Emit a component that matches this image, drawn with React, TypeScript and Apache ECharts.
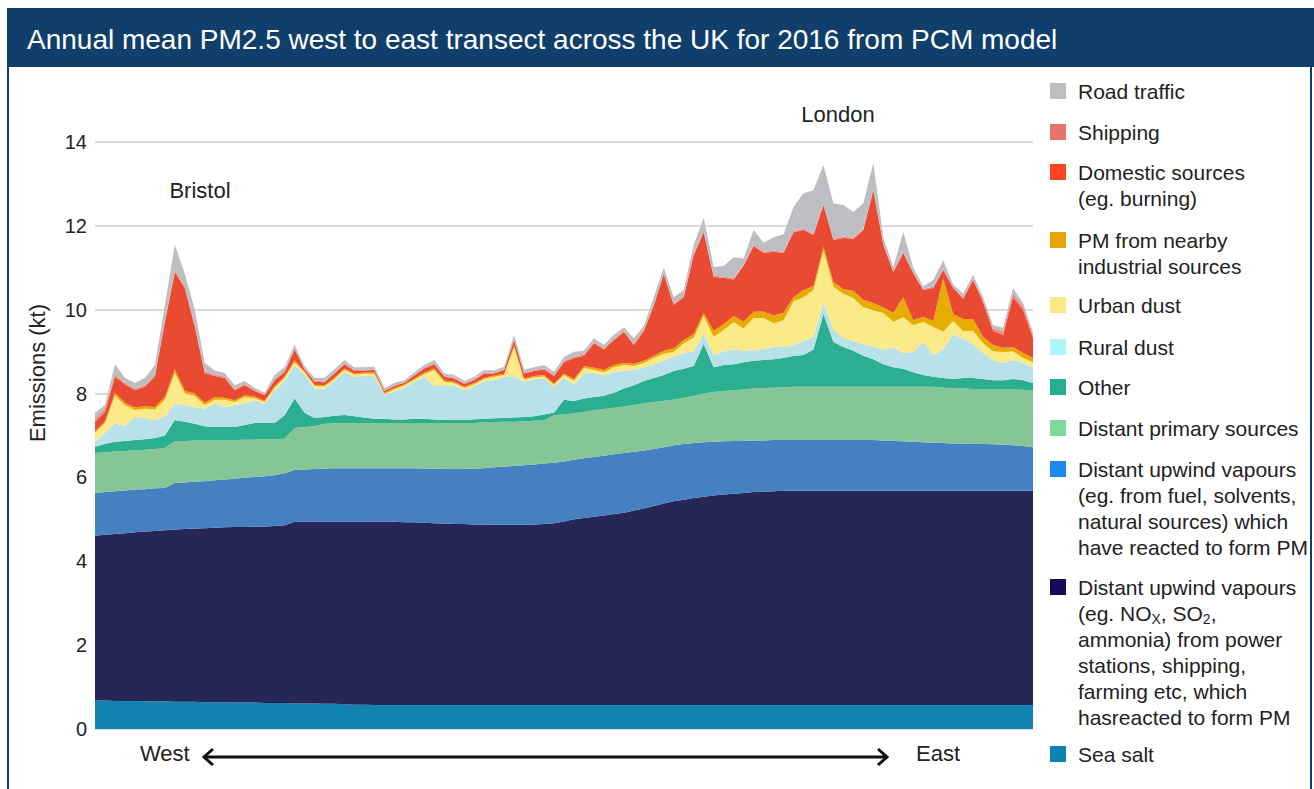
import React, { useEffect, useRef } from "react";
import * as echarts from "echarts";

// Cumulative tops (kt) of each stacked layer, read west→east at ~10px steps
const seaSaltTop = [0.68,0.68,0.67,0.67,0.67,0.66,0.66,0.66,0.65,0.65,0.65,0.64,0.64,0.64,0.63,0.63,0.63,0.62,0.62,0.62,0.61,0.61,0.61,0.60,0.60,0.59,0.58,0.58,0.57,0.57,0.57,0.57,0.57,0.57,0.57,0.57,0.57,0.57,0.57,0.57,0.57,0.57,0.57,0.57,0.57,0.57,0.57,0.57,0.57,0.57,0.57,0.57,0.57,0.57,0.57,0.57,0.57,0.57,0.57,0.57,0.57,0.57,0.57,0.57,0.57,0.57,0.57,0.57,0.57,0.57,0.57,0.57,0.57,0.57,0.57,0.57,0.57,0.57,0.57,0.57,0.57,0.57,0.57,0.57,0.57,0.57,0.57,0.57,0.57,0.57,0.57,0.57,0.57,0.57,0.57];
const noxTop = [4.61,4.63,4.65,4.67,4.69,4.71,4.72,4.74,4.76,4.77,4.78,4.79,4.80,4.81,4.82,4.82,4.83,4.83,4.84,4.86,4.94,4.94,4.94,4.94,4.94,4.94,4.94,4.94,4.94,4.94,4.94,4.93,4.93,4.92,4.91,4.90,4.89,4.89,4.88,4.88,4.87,4.87,4.87,4.87,4.88,4.89,4.91,4.95,5.00,5.03,5.06,5.09,5.13,5.16,5.21,5.26,5.32,5.38,5.43,5.47,5.51,5.54,5.57,5.59,5.61,5.63,5.65,5.66,5.67,5.68,5.68,5.68,5.68,5.68,5.68,5.68,5.68,5.68,5.68,5.68,5.68,5.68,5.68,5.68,5.68,5.68,5.68,5.68,5.68,5.68,5.68,5.68,5.68,5.68,5.68];
const vocTop = [5.63,5.65,5.67,5.69,5.71,5.72,5.74,5.75,5.87,5.88,5.90,5.91,5.93,5.95,5.97,5.99,6.01,6.03,6.05,6.10,6.18,6.19,6.20,6.21,6.22,6.22,6.22,6.22,6.22,6.22,6.22,6.22,6.22,6.21,6.21,6.20,6.20,6.20,6.21,6.22,6.24,6.26,6.27,6.29,6.31,6.33,6.35,6.38,6.42,6.46,6.49,6.52,6.55,6.58,6.61,6.64,6.68,6.72,6.77,6.80,6.82,6.84,6.85,6.86,6.87,6.87,6.88,6.88,6.89,6.89,6.89,6.89,6.89,6.89,6.89,6.89,6.89,6.89,6.89,6.88,6.87,6.86,6.85,6.84,6.83,6.82,6.81,6.81,6.80,6.80,6.79,6.78,6.77,6.75,6.72];
const primaryTop = [6.58,6.60,6.62,6.63,6.65,6.66,6.68,6.70,6.87,6.87,6.88,6.88,6.88,6.88,6.89,6.90,6.90,6.91,6.91,6.92,7.18,7.20,7.22,7.28,7.29,7.30,7.30,7.30,7.30,7.30,7.30,7.30,7.30,7.30,7.30,7.30,7.30,7.30,7.30,7.32,7.32,7.33,7.33,7.34,7.35,7.36,7.48,7.50,7.53,7.56,7.60,7.63,7.66,7.69,7.73,7.77,7.80,7.83,7.86,7.90,7.95,8.00,8.04,8.06,8.08,8.10,8.12,8.13,8.14,8.15,8.16,8.16,8.16,8.16,8.16,8.16,8.16,8.16,8.16,8.16,8.16,8.16,8.16,8.16,8.16,8.14,8.13,8.12,8.11,8.10,8.10,8.10,8.10,8.09,8.08];
const otherTop = [6.73,6.80,6.85,6.87,6.89,6.91,6.94,7.00,7.37,7.33,7.28,7.22,7.20,7.20,7.20,7.25,7.30,7.30,7.30,7.48,7.88,7.54,7.42,7.44,7.47,7.49,7.46,7.43,7.40,7.40,7.38,7.38,7.40,7.40,7.38,7.37,7.37,7.37,7.39,7.40,7.41,7.42,7.43,7.44,7.46,7.50,7.55,7.85,7.82,7.88,7.92,7.95,8.02,8.12,8.20,8.30,8.37,8.44,8.54,8.59,8.66,9.18,8.63,8.68,8.70,8.75,8.78,8.80,8.82,8.85,8.90,8.92,9.05,9.90,9.23,9.11,9.02,8.90,8.82,8.70,8.63,8.59,8.51,8.44,8.40,8.37,8.35,8.37,8.37,8.35,8.32,8.32,8.35,8.32,8.25];
const ruralTop = [6.85,7.06,7.30,7.22,7.44,7.42,7.37,7.45,7.77,7.73,7.68,7.64,7.76,7.68,7.73,7.77,7.84,7.75,8.08,8.30,8.68,8.45,8.12,8.12,8.30,8.52,8.40,8.42,8.42,7.97,8.05,8.14,8.28,8.40,8.18,8.18,8.20,8.08,8.17,8.30,8.32,8.40,8.42,8.28,8.34,8.36,8.16,8.38,8.22,8.48,8.49,8.44,8.51,8.55,8.56,8.62,8.70,8.78,8.88,8.97,9.01,9.42,8.92,9.01,9.06,9.02,9.04,9.06,9.11,9.11,9.16,9.25,9.35,10.18,9.52,9.33,9.25,9.18,9.13,9.04,9.10,8.97,8.99,9.23,8.92,9.05,9.42,9.30,9.18,8.97,8.80,8.73,8.80,8.73,8.63];
const urbanTop = [7.06,7.30,7.95,7.72,7.61,7.64,7.62,7.85,8.49,8.01,7.94,7.73,7.85,7.85,7.80,7.92,7.89,7.80,8.14,8.37,8.75,8.50,8.18,8.17,8.35,8.57,8.45,8.47,8.47,7.99,8.10,8.19,8.33,8.46,8.56,8.28,8.25,8.13,8.22,8.35,8.40,8.44,9.10,8.33,8.39,8.41,8.21,8.44,8.30,8.61,8.56,8.51,8.63,8.68,8.66,8.73,8.85,8.95,9.00,9.20,9.33,9.85,9.35,9.52,9.70,9.56,9.80,9.80,9.68,9.75,10.20,10.30,10.47,11.40,10.55,10.38,10.28,10.06,9.99,9.92,9.71,9.82,9.63,9.71,9.59,9.48,9.73,9.49,9.50,9.20,9.01,8.99,9.01,8.85,8.75];
const industrialTop = [7.11,7.34,8.02,7.78,7.67,7.70,7.68,7.92,8.58,8.07,8.00,7.79,7.91,7.90,7.84,7.96,7.93,7.83,8.18,8.41,8.80,8.53,8.21,8.20,8.38,8.60,8.48,8.50,8.50,8.02,8.13,8.22,8.36,8.50,8.60,8.31,8.28,8.16,8.25,8.38,8.43,8.47,9.15,8.36,8.42,8.44,8.24,8.48,8.34,8.65,8.62,8.56,8.68,8.73,8.71,8.78,8.90,9.02,9.08,9.28,9.42,9.92,9.50,9.66,9.85,9.72,9.95,9.96,9.86,9.93,10.30,10.47,10.56,11.50,10.66,10.49,10.45,10.23,10.16,10.06,9.92,10.30,9.75,9.83,9.73,10.75,9.90,9.78,9.78,9.35,9.16,9.09,9.11,8.97,8.85];
const domesticTop = [7.32,7.56,8.40,8.22,8.08,8.16,8.40,9.70,10.90,10.52,9.60,8.49,8.42,8.37,8.08,8.20,8.06,7.96,8.32,8.51,9.05,8.58,8.28,8.27,8.48,8.70,8.54,8.55,8.56,8.06,8.18,8.26,8.43,8.60,8.70,8.40,8.36,8.23,8.32,8.48,8.48,8.56,9.28,8.48,8.54,8.58,8.42,8.75,8.85,8.90,9.20,9.05,9.28,9.47,9.16,9.49,10.10,10.85,10.12,10.30,11.30,11.85,10.78,10.76,10.72,11.05,11.52,11.35,11.38,11.35,11.85,11.90,11.78,12.50,11.66,11.71,11.69,11.90,12.85,11.55,10.90,11.35,10.87,10.47,10.52,10.95,10.52,10.26,10.71,10.18,9.50,9.40,10.30,10.00,9.33];
const shippingTop = [7.40,7.66,8.46,8.26,8.12,8.20,8.44,9.74,10.95,10.56,9.64,8.53,8.46,8.41,8.11,8.23,8.09,7.98,8.35,8.54,9.08,8.61,8.31,8.29,8.50,8.72,8.56,8.57,8.58,8.07,8.19,8.27,8.44,8.62,8.72,8.42,8.38,8.25,8.34,8.50,8.50,8.58,9.30,8.50,8.56,8.60,8.44,8.78,8.88,8.93,9.23,9.08,9.31,9.50,9.19,9.52,10.13,10.88,10.15,10.33,11.33,11.88,10.81,10.79,10.75,11.08,11.55,11.38,11.41,11.38,11.88,11.93,11.81,12.53,11.69,11.74,11.72,11.93,12.88,11.58,10.93,11.38,10.90,10.50,10.55,10.98,10.55,10.29,10.74,10.23,9.56,9.48,10.40,10.08,9.40];
const roadTop = [7.54,7.73,8.70,8.38,8.25,8.37,8.68,10.10,11.55,10.85,10.00,8.73,8.55,8.49,8.20,8.30,8.14,8.02,8.44,8.63,9.16,8.66,8.38,8.37,8.58,8.80,8.62,8.63,8.64,8.13,8.25,8.32,8.50,8.68,8.80,8.48,8.44,8.30,8.40,8.56,8.55,8.64,9.40,8.57,8.63,8.68,8.52,8.87,9.00,9.02,9.32,9.16,9.40,9.58,9.32,9.61,10.30,11.00,10.30,10.47,11.55,12.19,11.02,11.04,11.25,11.22,11.90,11.60,11.73,11.80,12.45,12.78,12.85,13.45,12.54,12.50,12.33,12.54,13.50,11.72,11.02,11.85,11.00,10.56,10.71,11.18,10.60,10.38,10.83,10.30,9.63,9.57,10.52,10.16,9.47];

const transectPoints = seaSaltTop.map((_, i) => `P${i + 1}`);
const yTicks = [0, 2, 4, 6, 8, 10, 12, 14];

const seriesNames = [
  "Sea salt",
  "Distant upwind vapours (NOx, SO2, ammonia)",
  "Distant upwind vapours (fuel, solvents, natural)",
  "Distant primary sources",
  "Other",
  "Rural dust",
  "Urban dust",
  "PM from nearby industrial sources",
  "Domestic sources",
  "Shipping",
  "Road traffic",
];
const layerTops = [seaSaltTop, noxTop, vocTop, primaryTop, otherTop, ruralTop, urbanTop, industrialTop, domesticTop, shippingTop, roadTop];
const areaColors = ["#1083B3", "#262657", "#4480C2", "#86C595", "#2BAF90", "#B9E1EA", "#FCE987", "#E6AC00", "#E84A32", "#EE8A82", "#BDBEC2"];

// Legend (top to bottom)
const legendColors = ["#BDBEC2", "#E8736C", "#FF4422", "#E8A700", "#FCE986", "#ABF6F9", "#27AE8E", "#7DD89A", "#1E88EE", "#190A5C", "#0F82B0"];
const legendLines: (string | null)[][] = [
  ["Road traffic"],
  ["Shipping"],
  ["Domestic sources", "(eg. burning)"],
  ["PM from nearby", "industrial sources"],
  ["Urban dust"],
  ["Rural dust"],
  ["Other"],
  ["Distant primary sources"],
  ["Distant upwind vapours", "(eg. from fuel, solvents,", "natural sources) which", "have reacted to form PM"],
  ["Distant upwind vapours", null, "ammonia) from power", "stations, shipping,", "farming etc, which", "hasreacted to form PM"],
  ["Sea salt"],
];
const subscriptLine = [
  { t: "(eg. NO", sub: false },
  { t: "X", sub: true },
  { t: ", SO", sub: false },
  { t: "2", sub: true },
  { t: ",", sub: false },
];
const legendFirstY = [91, 132, 172, 240, 305, 347, 387, 428, 469, 587, 754];

const FONT = '"Liberation Sans", Arial, Helvetica, sans-serif';
const TXT = "#222222";

function measure(t: string, size: number): number {
  const c = document.createElement("canvas").getContext("2d");
  if (!c) return t.length * size * 0.5;
  c.font = `${size}px "Liberation Sans", Arial, sans-serif`;
  return c.measureText(t).width;
}

export default function App() {
  const ref = useRef<HTMLDivElement>(null);
  useEffect(() => {
    if (!ref.current) return;
    const chart = echarts.init(ref.current, undefined, { renderer: "svg" });

    const series = layerTops.map((tops, k) => ({
      name: seriesNames[k],
      type: "line",
      stack: "pm",
      symbol: "none",
      silent: true,
      smooth: false,
      lineStyle: { width: 0, opacity: 0 },
      areaStyle: { color: areaColors[k], opacity: 1 },
      data: tops.map((v, i) => (k === 0 ? v : +(v - layerTops[k - 1][i]).toFixed(3))),
    }));

    const graphic: any[] = [];
    // frame
    graphic.push({ type: "rect", shape: { x: 7, y: 8, width: 1307, height: 59 }, style: { fill: "#103F6C" } });
    graphic.push({ type: "line", shape: { x1: 8, y1: 8, x2: 8, y2: 789 }, style: { stroke: "#103F6C", lineWidth: 2 } });
    graphic.push({ type: "line", shape: { x1: 1311, y1: 8, x2: 1311, y2: 789 }, style: { stroke: "#103F6C", lineWidth: 2 } });
    graphic.push({
      type: "text", x: 27, y: 39,
      style: { text: "Annual mean PM2.5 west to east transect across the UK for 2016 from PCM model", fill: "#FFFFFF", fontSize: 28, fontFamily: FONT, align: "left", verticalAlign: "middle" },
    });
    // axis name
    graphic.push({
      type: "text", x: 37, y: 373, rotation: Math.PI / 2,
      style: { text: "Emissions (kt)", fill: TXT, fontSize: 22, fontFamily: FONT, align: "center", verticalAlign: "middle" },
    });
    // place labels
    graphic.push({ type: "text", x: 200, y: 190, style: { text: "Bristol", fill: TXT, fontSize: 22, fontFamily: FONT, align: "center", verticalAlign: "middle" } });
    graphic.push({ type: "text", x: 838, y: 114, style: { text: "London", fill: TXT, fontSize: 22, fontFamily: FONT, align: "center", verticalAlign: "middle" } });
    graphic.push({ type: "text", x: 140, y: 753, style: { text: "West", fill: TXT, fontSize: 22, fontFamily: FONT, align: "left", verticalAlign: "middle" } });
    graphic.push({ type: "text", x: 916, y: 753, style: { text: "East", fill: TXT, fontSize: 22, fontFamily: FONT, align: "left", verticalAlign: "middle" } });
    // arrow
    graphic.push({ type: "line", shape: { x1: 205, y1: 757, x2: 886, y2: 757 }, style: { stroke: "#111111", lineWidth: 3 } });
    graphic.push({ type: "polyline", shape: { points: [[213, 749], [204, 757], [213, 765]] }, style: { stroke: "#111111", lineWidth: 3, fill: null } });
    graphic.push({ type: "polyline", shape: { points: [[878, 749], [887, 757], [878, 765]] }, style: { stroke: "#111111", lineWidth: 3, fill: null } });

    // legend
    const LH = 26;
    legendLines.forEach((lines, k) => {
      const y0 = legendFirstY[k];
      graphic.push({ type: "rect", shape: { x: 1050, y: y0 - 8, width: 16, height: 16 }, style: { fill: legendColors[k] } });
      lines.forEach((line, j) => {
        const y = y0 + j * LH;
        if (line === null) {
          let x = 1078;
          subscriptLine.forEach((seg) => {
            const size = seg.sub ? 14 : 21;
            graphic.push({
              type: "text", x, y: seg.sub ? y + 6 : y,
              style: { text: seg.t, fill: TXT, fontSize: size, fontFamily: FONT, align: "left", verticalAlign: "middle" },
            });
            x += measure(seg.t, size);
          });
        } else {
          graphic.push({ type: "text", x: 1078, y, style: { text: line, fill: TXT, fontSize: 21, fontFamily: FONT, align: "left", verticalAlign: "middle" } });
        }
      });
    });

    chart.setOption({
      animation: false,
      backgroundColor: "#FFFFFF",
      grid: { left: 95, right: 281, top: 142, bottom: 60, containLabel: false },
      xAxis: {
        type: "category",
        data: transectPoints,
        boundaryGap: false,
        axisLine: { show: false },
        axisTick: { show: false },
        axisLabel: { show: false },
        splitLine: { show: false },
      },
      yAxis: {
        type: "value",
        min: yTicks[0],
        max: yTicks[yTicks.length - 1],
        interval: 2,
        axisLine: { show: false },
        axisTick: { show: false },
        axisLabel: { color: TXT, fontSize: 20, fontFamily: FONT, margin: 8 },
        splitLine: { show: true, lineStyle: { color: "#DCDCDC", width: 2 } },
      },
      series,
      graphic: { elements: graphic.map((g) => ({ silent: true, z: 100, ...g })) },
    });

    return () => chart.dispose();
  }, []);

  return <div ref={ref} style={{ position: "absolute", left: 0, top: 0, width: 1314, height: 789 }} />;
}
